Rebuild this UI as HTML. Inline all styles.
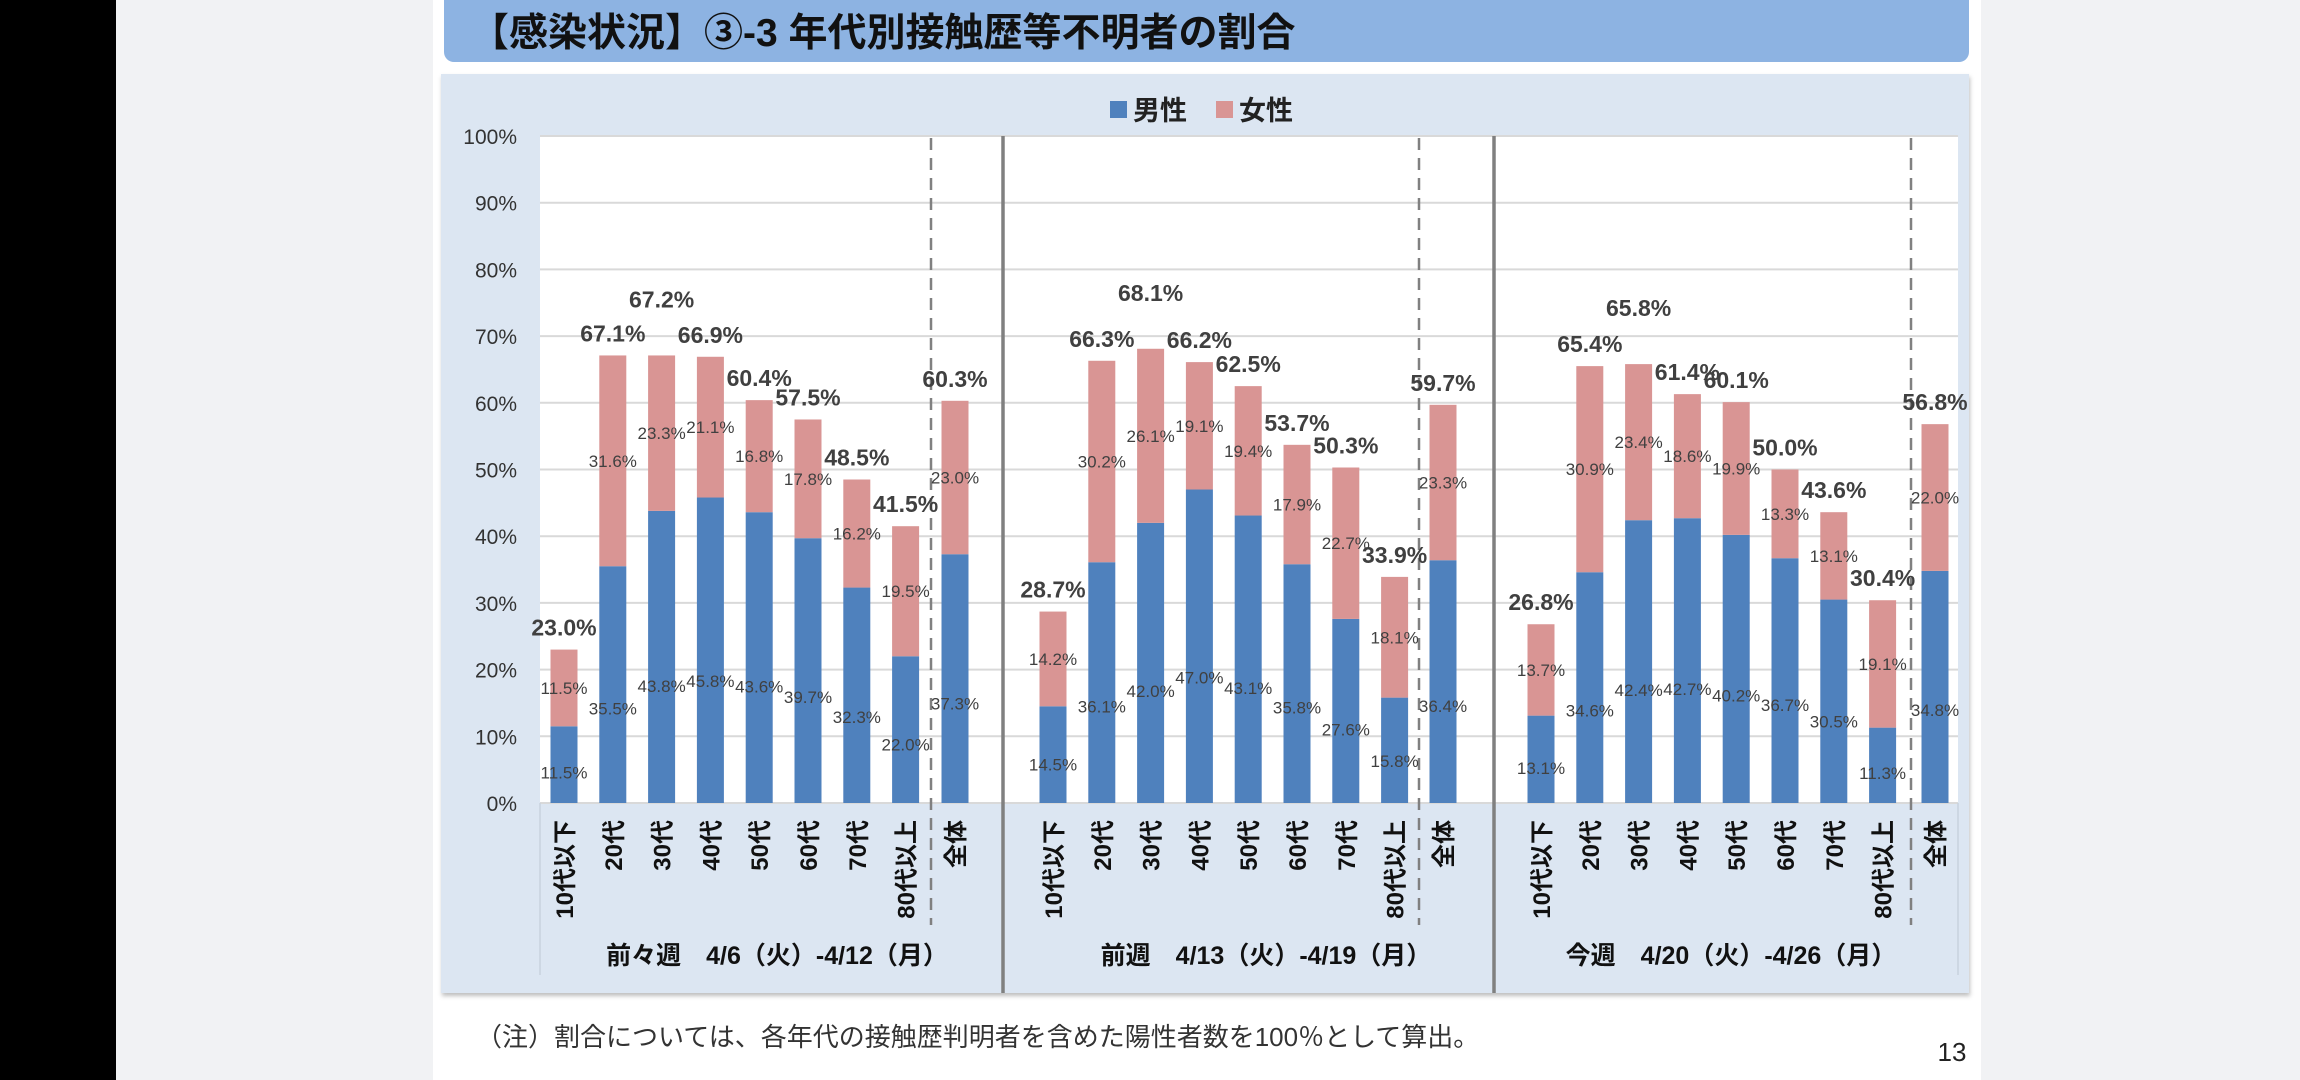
<!DOCTYPE html>
<html><head><meta charset="utf-8"><style>
html,body{margin:0;padding:0;background:#f1f2f4;}
svg{display:block;font-family:"Liberation Sans","Noto Sans CJK JP",sans-serif;}
</style></head><body>
<svg id="chart" width="2300" height="1080" viewBox="0 0 2300 1080" xmlns="http://www.w3.org/2000/svg">
<defs><filter id="sh" x="-2%" y="-2%" width="104%" height="106%"><feDropShadow dx="1" dy="3" stdDeviation="2" flood-color="#000" flood-opacity="0.25"/></filter></defs>
<rect x="0" y="0" width="116" height="1080" fill="#000"/>
<rect x="433" y="0" width="1548" height="1080" fill="#ffffff"/>
<rect x="444" y="-10" width="1525" height="72" rx="10" fill="#8db3e2"/>
<text x="470" y="46" font-size="39" font-weight="bold" fill="#111">【感染状況】③-3 年代別接触歴等不明者の割合</text>
<rect x="441" y="74" width="1528" height="919" fill="#dce6f2" filter="url(#sh)"/>
<rect x="540" y="136" width="1418" height="667" fill="#ffffff"/>
<g id="grid"></g>
<g id="bars"></g>
<g id="labels"></g>
<g id="legend">
<rect x="1110" y="101" width="17" height="17" fill="#4f81bd"/>
<text x="1133" y="120" font-size="27" font-weight="bold" fill="#222">男性</text>
<rect x="1216" y="101" width="17" height="17" fill="#d99594"/>
<text x="1239" y="120" font-size="27" font-weight="bold" fill="#222">女性</text>
</g>
<text x="476" y="1046" font-size="26" fill="#333">（注）割合については、各年代の接触歴判明者を含めた陽性者数を100％として算出。</text>
<text x="1952" y="1061" font-size="26" fill="#222" text-anchor="middle">13</text>
</svg>
<script>
const categories = ["10代以下","20代","30代","40代","50代","60代","70代","80代以上","全体"];
const weeks = ["前々週　4/6（火）-4/12（月）","前週　4/13（火）-4/19（月）","今週　4/20（火）-4/26（月）"];
const maleW1 = [11.5,35.5,43.8,45.8,43.6,39.7,32.3,22.0,37.3];
const femaleW1 = [11.5,31.6,23.3,21.1,16.8,17.8,16.2,19.5,23.0];
const totalW1 = [23.0,67.1,67.2,66.9,60.4,57.5,48.5,41.5,60.3];
const maleW2 = [14.5,36.1,42.0,47.0,43.1,35.8,27.6,15.8,36.4];
const femaleW2 = [14.2,30.2,26.1,19.1,19.4,17.9,22.7,18.1,23.3];
const totalW2 = [28.7,66.3,68.1,66.2,62.5,53.7,50.3,33.9,59.7];
const maleW3 = [13.1,34.6,42.4,42.7,40.2,36.7,30.5,11.3,34.8];
const femaleW3 = [13.7,30.9,23.4,18.6,19.9,13.3,13.1,19.1,22.0];
const totalW3 = [26.8,65.4,65.8,61.4,60.1,50.0,43.6,30.4,56.8];
const yTicks = [0,10,20,30,40,50,60,70,80,90,100];

const NS="http://www.w3.org/2000/svg";
const males=[maleW1,maleW2,maleW3], females=[femaleW1,femaleW2,femaleW3], totals=[totalW1,totalW2,totalW3];
const plotTop=136, plotBottom=803, plotLeft=540, plotRight=1958;
function y(v){return plotBottom-(v/100)*(plotBottom-plotTop);}
const groupStart=[564,1053,1541], pitch=48.8, dashX=[931,1419,1911];
function x(g,i){ if(i===categories.length-1) return dashX[g]+24; return groupStart[g]+pitch*i; }
const bw=27;
function mk(tag,attrs,parent,txt){const e=document.createElementNS(NS,tag);for(const k in attrs)e.setAttribute(k,attrs[k]);if(txt!==undefined)e.textContent=txt;parent.appendChild(e);return e;}
const grid=document.getElementById('grid'), bars=document.getElementById('bars'), labels=document.getElementById('labels');
yTicks.forEach(t=>{
  const l=mk('line',{x1:plotLeft,x2:plotRight,y1:y(t),y2:y(t),stroke:'#d9d9d9','stroke-width':2},grid);
  
  
  const tx=mk('text',{x:517,y:y(t)+8,'font-size':21,'text-anchor':'end',fill:'#333'},grid,t+'%');
  
  
});
[540,1003,1494,1958].forEach(sx=>{
  const l=mk('line',{x1:sx,x2:sx,y1:803,y2:975,stroke:'#c8d2de','stroke-width':1.5},grid);
  
  
});
[1003,1494].forEach(sx=>{
  const l=mk('line',{x1:sx,x2:sx,y1:136,y2:993,stroke:'#808080','stroke-width':3.5},grid);
  
  
});
dashX.forEach(sx=>{
  const l=mk('line',{x1:sx,x2:sx,y1:138,y2:925,stroke:'#808080','stroke-width':2.5,'stroke-dasharray':'12,8'},grid);
  
  
});
const groupCenters=[777,1266,1731];
for(let g=0;g<3;g++){
  const wl=mk('text',{x:groupCenters[g],y:964,'font-size':25,'font-weight':'bold','text-anchor':'middle',fill:'#111'},labels,weeks[g]);
  
  
  let prevLifted=true;
  for(let i=0;i<categories.length;i++){
    const cx=x(g,i), m=males[g][i], f=females[g][i], t=totals[g][i];
    const mb=mk('rect',{x:cx-bw/2,y:y(m),width:bw,height:y(0)-y(m),fill:'#4f81bd'},bars);
    
    
    const fb=mk('rect',{x:cx-bw/2,y:y(m+f),width:bw,height:y(m)-y(m+f),fill:'#d99594'},bars);
    
    
    const ml=mk('text',{x:cx,y:y(m*0.4)+6,'font-size':17,'text-anchor':'middle',fill:'#404040'},labels,m.toFixed(1)+'%');
    
    
    const fl=mk('text',{x:cx,y:y(m+f/2)+6,'font-size':17,'text-anchor':'middle',fill:'#404040'},labels,f.toFixed(1)+'%');
    
    
    let lift=0;
    if(i>0 && i<categories.length-1){
      const prev=totals[g][i-1];
      if(!prevLifted && t>=prev-1 && Math.abs(t-prev)<4){lift=34;prevLifted=true;} else prevLifted=false;
    } else prevLifted=false;
    const tl=mk('text',{x:cx,y:y(m+f)-14-lift,'font-size':23,'font-weight':'bold','text-anchor':'middle',fill:'#404040'},labels,t.toFixed(1)+'%');
    
    
    const cl=mk('text',{x:0,y:0,'font-size':24,'font-weight':'bold','text-anchor':'end',fill:'#111',transform:'translate('+(cx+9)+',820) rotate(-90)'},labels,categories[i]);
    
    
  }
}
</script>
</body></html>
